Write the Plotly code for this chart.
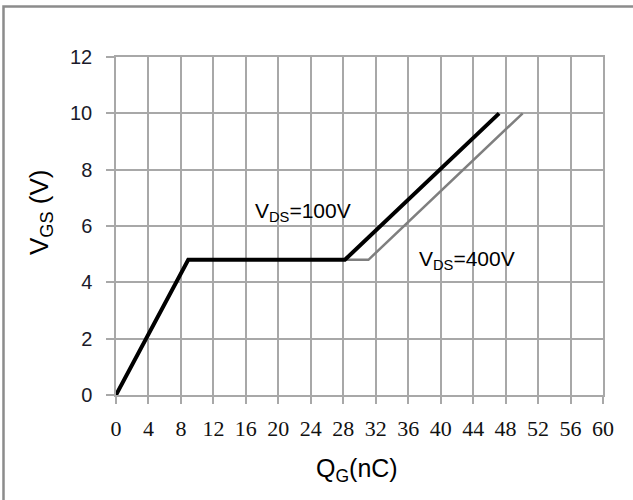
import plotly.graph_objects as go

# Gate charge curves: gate-source voltage vs. total gate charge
q_vds100 = [0, 8.9, 28.2, 47.2]      # nC
vgs_vds100 = [0, 4.8, 4.8, 10.0]     # V
q_vds400 = [0, 8.9, 31.1, 50.1]      # nC
vgs_vds400 = [0, 4.8, 4.8, 10.0]     # V

x_ticks = list(range(0, 61, 4))
y_ticks = list(range(0, 13, 2))

GRID = "#a8a8a8"

fig = go.Figure()
fig.add_trace(go.Scatter(x=q_vds400, y=vgs_vds400, mode="lines",
                         line=dict(color="#7f7f7f", width=2.5),
                         showlegend=False, hoverinfo="skip"))
fig.add_trace(go.Scatter(x=q_vds100, y=vgs_vds100, mode="lines",
                         line=dict(color="#000000", width=4),
                         showlegend=False, hoverinfo="skip"))

fig.update_layout(
    width=633, height=500,
    margin=dict(l=116, r=30, t=57, b=105),
    paper_bgcolor="white", plot_bgcolor="white",
    xaxis=dict(range=[0, 60], tickvals=x_ticks, ticktext=[str(v) for v in x_ticks],
               showgrid=True, gridcolor=GRID, gridwidth=1.5,
               showline=True, linecolor=GRID, linewidth=1.5, mirror=True,
               ticks="outside", ticklen=7, tickcolor=GRID, tickwidth=1.5,
               ticklabelstandoff=6,
               tickfont=dict(family="Liberation Serif", size=22, color="#111111"),
               zeroline=False, fixedrange=True),
    yaxis=dict(range=[0, 12], tickvals=y_ticks, ticktext=[str(v) for v in y_ticks],
               showgrid=True, gridcolor=GRID, gridwidth=1.5,
               showline=True, linecolor=GRID, linewidth=1.5, mirror=True,
               ticks="outside", ticklen=8, tickcolor=GRID, tickwidth=1.5,
               ticklabelstandoff=10,
               tickfont=dict(family="Liberation Sans", size=20, color="#1a1a2a"),
               zeroline=False, fixedrange=True),
    annotations=[
        dict(text="V<sub>GS</sub> (V)", textangle=-90, xref="paper", yref="paper",
             x=(40 - 116) / 487, y=(395 - 212) / 338, showarrow=False,
             xanchor="center", yanchor="middle",
             font=dict(family="Liberation Sans", size=26, color="#000000")),
        dict(text="Q<sub>G</sub>(nC)", xref="paper", yref="paper",
             x=(357 - 116) / 487, y=(395 - 470) / 338, showarrow=False,
             xanchor="center", yanchor="middle",
             font=dict(family="Liberation Sans", size=25, color="#000000")),
        dict(text="V<sub>DS</sub>=100V", x=16.9, y=6.5, xref="x", yref="y",
             showarrow=False, xanchor="left", yanchor="middle",
             font=dict(family="Liberation Sans", size=21, color="#000000")),
        dict(text="V<sub>DS</sub>=400V", x=37.1, y=4.8, xref="x", yref="y",
             showarrow=False, xanchor="left", yanchor="middle",
             font=dict(family="Liberation Sans", size=21, color="#000000")),
    ],
    shapes=[
        dict(type="rect", xref="paper", yref="paper",
             x0=(3.5 - 116) / 487, x1=(660 - 116) / 487,
             y0=(395 - 530) / 338, y1=(395 - 6.5) / 338,
             line=dict(color="#8c8c8c", width=2.5), fillcolor="rgba(0,0,0,0)",
             layer="below"),
    ],
)

fig.write_html("out.html")
